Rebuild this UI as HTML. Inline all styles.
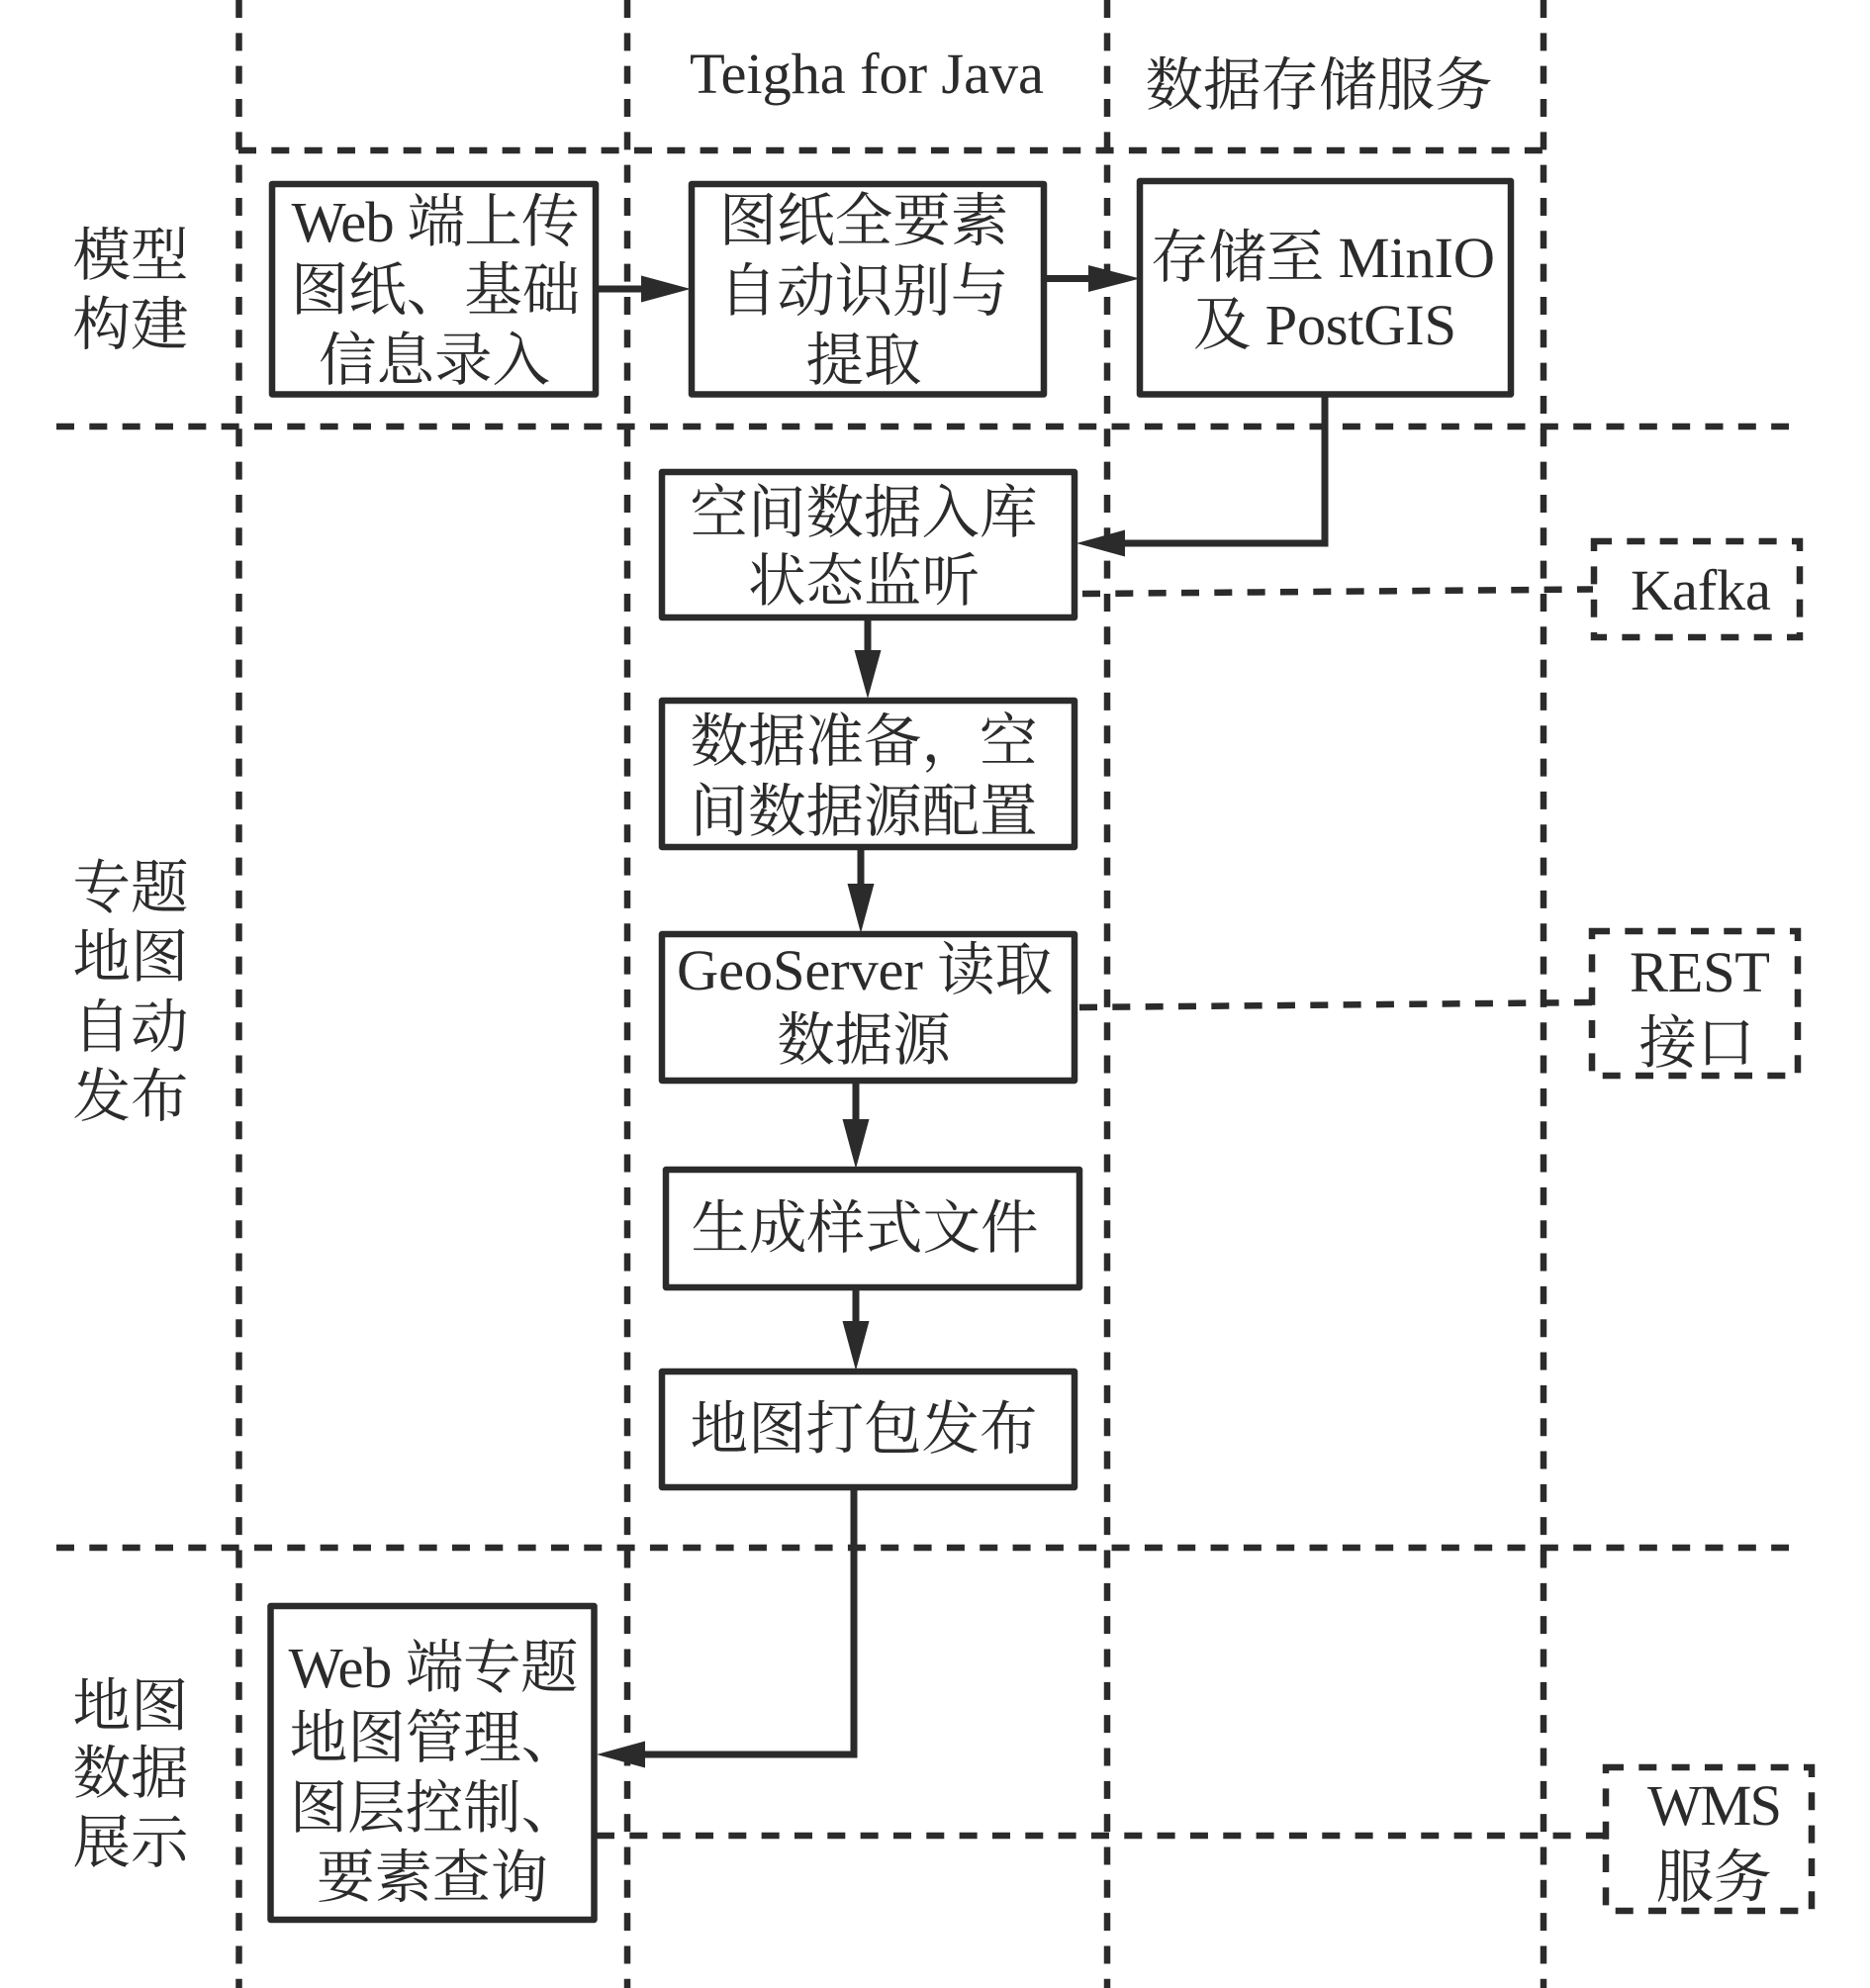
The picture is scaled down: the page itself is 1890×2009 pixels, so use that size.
<!DOCTYPE html>
<html><head><meta charset="utf-8"><style>
html,body{margin:0;padding:0;background:#fff}
svg{display:block}
text{font-family:"Liberation Serif","Noto Serif CJK SC",serif;font-size:58.5px;fill:#2b2b2b;text-anchor:middle;font-weight:400}
.b{fill:#fff;stroke:#2b2b2b;stroke-width:6.5;stroke-linejoin:round}
.d{fill:none;stroke:#2b2b2b;stroke-width:6.500;stroke-dasharray:18 15.33}
.c{fill:none;stroke:#2b2b2b;stroke-width:7}
.a{fill:#2b2b2b}
</style></head><body>
<svg width="1890" height="2009" viewBox="0 0 1890 2009" xmlns="http://www.w3.org/2000/svg">
<rect width="1890" height="2009" fill="#fff"/>
<path class="d" d="M241.500 0V2009M634 0V2009M1119 0V2009M1560 0V2009"/>
<path class="d" d="M241 152H1562M57 431H1808M57 1564H1808"/>

<rect class="b" x="275" y="186" width="327" height="212.500"/>
<rect class="b" x="699" y="186" width="356" height="212.500"/>
<rect class="b" x="1152" y="183" width="375" height="215.500"/>
<rect class="b" x="669" y="477" width="417" height="147"/>
<rect class="b" x="669" y="708" width="417" height="148"/>
<rect class="b" x="669" y="944" width="417" height="148"/>
<rect class="b" x="673" y="1182" width="418" height="119"/>
<rect class="b" x="669" y="1386" width="417" height="117"/>
<rect class="b" x="273.500" y="1623" width="327" height="317"/>

<path class="d" d="M1611 547H1819V644H1611Z"/>
<path class="d" d="M1609 941H1817V1087H1609Z"/>
<path class="d" d="M1623 1786H1831V1931H1623Z"/>

<path class="d" d="M1094 600L1610 595.500"/>
<path class="d" d="M1091 1018L1609 1013"/>
<path class="d" d="M603 1855H1623"/>

<path class="c" d="M604 292H650"/><path class="a" d="M648 278.500L698 292L648 305.500Z"/>
<path class="c" d="M1055 281.500H1102"/><path class="a" d="M1100 268L1152 281.500L1100 295Z"/>
<path class="c" d="M1339 399V549H1135"/><path class="a" d="M1137 535.500L1088 549L1137 562.500Z"/>
<path class="c" d="M877 625V660"/><path class="a" d="M863.500 657L877 706L890.500 657Z"/>
<path class="c" d="M870 856V895"/><path class="a" d="M856.500 893L870 943L883.500 893Z"/>
<path class="c" d="M865 1092V1133"/><path class="a" d="M851.500 1131L865 1181L878.500 1131Z"/>
<path class="c" d="M865 1301V1337"/><path class="a" d="M851.500 1335L865 1385L878.500 1335Z"/>
<path class="c" d="M863 1503V1773H650"/><path class="a" d="M652 1759.500L603 1773L652 1786.500Z"/>

<text x="876" y="94" textLength="358">Teigha for Java</text>
<text x="1333" y="106">数据存储服务</text>

<text x="132" y="278">模型</text><text x="132" y="348">构建</text>
<text x="132" y="917">专题</text><text x="132" y="987">地图</text><text x="132" y="1058">自动</text><text x="132" y="1128">发布</text>
<text x="132" y="1744">地图</text><text x="132" y="1812">数据</text><text x="132" y="1882">展示</text>

<text x="440" y="244" textLength="291">Web 端上传</text>
<text x="440" y="313">图纸、基础</text>
<text x="439" y="384">信息录入</text>

<text x="873" y="243">图纸全要素</text>
<text x="873" y="314">自动识别与</text>
<text x="873" y="384">提取</text>

<text x="1337" y="280" textLength="348">存储至 MinIO</text>
<text x="1339" y="348" textLength="266">及 PostGIS</text>

<text x="873" y="538">空间数据入库</text>
<text x="873" y="607">状态监听</text>
<text x="873" y="769">数据准备，空</text>
<text x="873" y="840">间数据源配置</text>
<text x="874" y="1000" textLength="380">GeoServer 读取</text>
<text x="873" y="1071">数据源</text>
<text x="874" y="1261">生成样式文件</text>
<text x="873" y="1464">地图打包发布</text>

<text x="438" y="1705" textLength="293">Web 端专题</text>
<text x="439" y="1776">地图管理、</text>
<text x="439" y="1847">图层控制、</text>
<text x="437" y="1917">要素查询</text>

<text x="1719" y="616" textLength="142">Kafka</text>
<text x="1718" y="1002" textLength="142">REST</text>
<text x="1715" y="1074">接口</text>
<text x="1733" y="1844" textLength="136">WMS</text>
<text x="1732" y="1917">服务</text>
</svg>
</body></html>
